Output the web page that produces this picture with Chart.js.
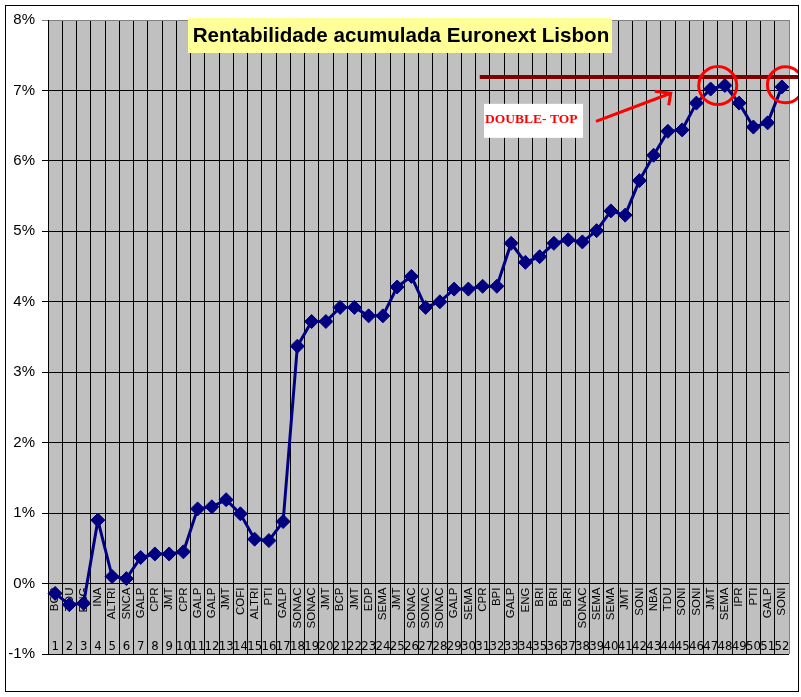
<!DOCTYPE html>
<html>
<head>
<meta charset="utf-8">
<script src="https://cdn.jsdelivr.net/npm/chart.js@4.4.1/dist/chart.umd.min.js"></script>
<style>
  html, body { margin: 0; padding: 0; background: #fff; }
  canvas { display: block; }
</style>
</head>
<body>
<canvas id="chart" width="801" height="697"></canvas>
<script>
// session numbers and tickers
const sessions = ['1','2','3','4','5','6','7','8','9','10','11','12','13','14','15','16','17','18','19','20',
    '21','22','23','24','25','26','27','28','29','30','31','32','33','34','35','36','37','38','39','40',
    '41','42','43','44','45','46','47','48','49','50','51','52'];
const tickers = ['BCP','TDU','ENG','INA','ALTRI','SNCA','GALP','CPR','JMT','CPR','GALP','GALP','JMT','COFI',
    'ALTRI','PTI','GALP','SONAC','SONAC','JMT','BCP','JMT','EDP','SEMA','JMT','SONAC','SONAC','SONAC',
    'GALP','SEMA','CPR','BPI','GALP','ENG','BRI','BRI','BRI','SONAC','SEMA','SEMA','JMT','SONI','NBA',
    'TDU','SONI','SONI','JMT','SEMA','IPR','PTI','GALP','SONI'];
// accumulated return, %
const cumReturn = [-0.14, -0.30, -0.28, 0.90, 0.10, 0.07, 0.37, 0.42, 0.42, 0.45, 1.06, 1.09, 1.19, 0.99,
    0.63, 0.61, 0.88, 3.37, 3.72, 3.72, 3.92, 3.92, 3.80, 3.80, 4.21, 4.36, 3.92, 4.00, 4.18, 4.18,
    4.22, 4.22, 4.83, 4.56, 4.64, 4.83, 4.88, 4.85, 5.01, 5.29, 5.23, 5.72, 6.08, 6.42, 6.44, 6.82,
    7.02, 7.07, 6.82, 6.48, 6.54, 7.05];
const yTicks = [-1, 0, 1, 2, 3, 4, 5, 6, 7, 8];

const ARIAL = 'Arial, "Liberation Sans", sans-serif';

// axes sit on fixed spots, no extra room
function noRoom(s) {
    if (s.isHorizontal()) s.height = 0;
    else s.width = 43;
    s.paddingLeft = s.paddingRight = s.paddingTop = s.paddingBottom = 0;
}

const bgPlugin = {
    id: 'bg',
    beforeDraw(chart) {
        const {ctx, chartArea: a} = chart;
        ctx.save();
        ctx.fillStyle = '#fff';
        ctx.fillRect(0, 0, chart.width, chart.height);
        ctx.fillStyle = '#c0c0c0';
        ctx.fillRect(a.left, a.top, a.right - a.left, a.bottom - a.top);
        ctx.strokeStyle = '#000';
        ctx.lineWidth = 1;
        ctx.strokeRect(5.5, 5.5, 793, 686);
        ctx.restore();
    }
};

// title box + double top markup
const notesPlugin = {
    id: 'notes',
    afterDraw(chart) {
        const {ctx} = chart;
        const x = chart.scales.x, y = chart.scales.y;
        const px = i => x.getPixelForValue(i);
        const py = v => y.getPixelForValue(v);
        ctx.save();

        // title
        ctx.fillStyle = '#ffff99';
        ctx.fillRect(188, 18, 424, 35);
        ctx.fillStyle = '#000';
        ctx.font = 'bold 20.6px ' + ARIAL;
        ctx.textAlign = 'center';
        ctx.textBaseline = 'middle';
        ctx.fillText('Rentabilidade acumulada Euronext Lisbon', 401, 36);

        // resistance line
        ctx.strokeStyle = '#800000';
        ctx.lineWidth = 4;
        ctx.beginPath();
        ctx.moveTo(px(29.8), py(7.19));
        ctx.lineTo(798, py(7.19));
        ctx.stroke();

        // circles on the two tops
        ctx.beginPath();
        ctx.rect(5, 5, 793, 686);
        ctx.clip();
        ctx.strokeStyle = '#ff0000';
        ctx.lineWidth = 3;
        ctx.beginPath();
        ctx.arc(px(46.5), py(7.07), 19, 0, Math.PI * 2);
        ctx.stroke();
        ctx.beginPath();
        ctx.arc(px(51.25), py(7.08), 18, 0, Math.PI * 2);
        ctx.stroke();

        // arrow
        const x0 = px(37.96), y0 = py(6.56), x1 = px(43.2), y1 = py(6.96);
        ctx.beginPath();
        ctx.moveTo(x0, y0);
        ctx.lineTo(x1, y1);
        ctx.moveTo(x1 - 16, y1 - 2);
        ctx.lineTo(x1, y1);
        ctx.lineTo(x1 - 2, y1 + 12);
        ctx.stroke();

        // label box
        const bx = px(30.1), by = py(6.81);
        ctx.fillStyle = '#fff';
        ctx.fillRect(bx, by, 99, 34);
        ctx.fillStyle = '#ff0000';
        ctx.font = 'bold 13.5px "Times New Roman", "Liberation Serif", serif';
        ctx.textAlign = 'left';
        ctx.textBaseline = 'middle';
        ctx.fillText('DOUBLE- TOP', bx + 1, by + 16);
        ctx.restore();
    }
};

new Chart(document.getElementById('chart'), {
    type: 'line',
    data: {
        labels: tickers,
        datasets: [{
            data: cumReturn,
            borderColor: '#000080',
            backgroundColor: '#000080',
            borderWidth: 3,
            tension: 0,
            pointStyle: 'rectRot',
            pointRadius: 7,
            pointBorderWidth: 1,
            pointBackgroundColor: '#000080',
            pointBorderColor: '#000080',
            xAxisID: 'x'
        }]
    },
    options: {
        responsive: false,
        devicePixelRatio: 1,
        animation: false,
        layout: { padding: { left: 5, top: 20, right: 12, bottom: 43 } },
        plugins: { legend: { display: false }, tooltip: { enabled: false }, title: { display: false } },
        scales: {
            x: {
                type: 'category',
                position: { y: 0 },
                offset: true,
                grid: {
                    offset: true,
                    drawTicks: false,
                    color: c => c.index === undefined ? '#808080' : '#000',
                    lineWidth: 1
                },
                border: { display: false },
                ticks: {
                    autoSkip: false, minRotation: 90, maxRotation: 90, padding: 4,
                    color: '#000', font: { family: ARIAL, size: 11.5 }
                },
                afterFit: noRoom
            },
            x2: {
                type: 'category',
                labels: sessions,
                position: { y: 0 },
                offset: true,
                grid: { display: false, drawTicks: false },
                border: { display: false },
                ticks: {
                    autoSkip: false, minRotation: 0, maxRotation: 0, padding: 55,
                    color: '#000', font: { family: '"Liberation Sans Narrow", "DejaVu Sans Condensed", ' + ARIAL, size: 13 }
                },
                afterFit: noRoom
            },
            y: {
                min: yTicks[0],
                max: yTicks[yTicks.length - 1],
                afterBuildTicks: s => { s.ticks = yTicks.map(v => ({ value: v })); },
                grid: {
                    color: c => c.tick && c.tick.value === 8 ? '#808080' : '#000',
                    lineWidth: 1,
                    tickLength: 6
                },
                border: { display: true, color: '#000', width: 1 },
                ticks: {
                    padding: 7,
                    color: '#000',
                    font: { family: ARIAL, size: 15 },
                    callback: v => v + '%'
                },
                afterFit: noRoom
            }
        }
    },
    plugins: [bgPlugin, notesPlugin]
});
</script>
</body>
</html>
